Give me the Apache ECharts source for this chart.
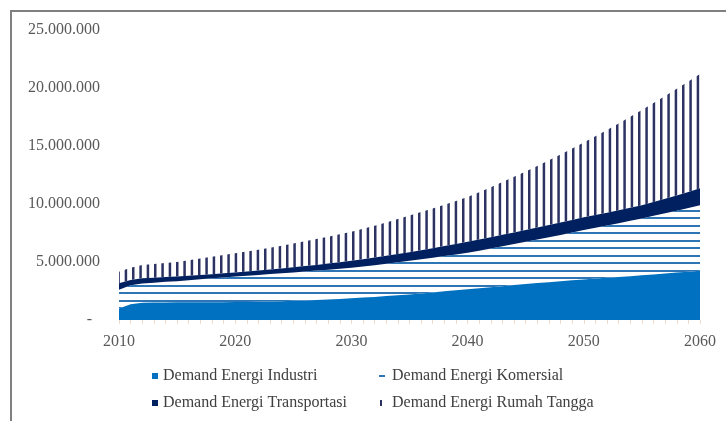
<!DOCTYPE html>
<html>
<head>
<meta charset="utf-8">
<script src="https://cdn.jsdelivr.net/npm/echarts@6/dist/echarts.min.js"></script>
<style>
html,body{margin:0;padding:0;background:#fff;}
#chart{width:726px;height:421px;}
</style>
</head>
<body>
<div id="chart"></div>
<script>
const years = ['2010','2011','2012','2013','2014','2015','2016','2017','2018','2019',
  '2020','2021','2022','2023','2024','2025','2026','2027','2028','2029',
  '2030','2031','2032','2033','2034','2035','2036','2037','2038','2039',
  '2040','2041','2042','2043','2044','2045','2046','2047','2048','2049',
  '2050','2051','2052','2053','2054','2055','2056','2057','2058','2059','2060'];

const industri = [1000000,1350000,1480000,1500000,1510000,1520000,1520000,1530000,1540000,1540000,
  1550000,1560000,1570000,1590000,1620000,1650000,1690000,1730000,1770000,1820000,
  1870000,1930000,1990000,2060000,2130000,2200000,2290000,2380000,2470000,2560000,
  2650000,2740000,2830000,2920000,3010000,3100000,3180000,3260000,3340000,3420000,
  3500000,3570000,3640000,3710000,3780000,3850000,3930000,4010000,4090000,4170000,4250000];

const komersial = [1600000,1650000,1670000,1720000,1780000,1830000,1910000,1980000,2050000,2130000,
  2200000,2260000,2320000,2370000,2410000,2450000,2490000,2530000,2570000,2600000,
  2630000,2680000,2730000,2780000,2840000,2900000,2940000,2990000,3040000,3090000,
  3150000,3240000,3330000,3430000,3540000,3650000,3760000,3870000,3990000,4120000,
  4260000,4380000,4500000,4630000,4770000,4910000,5050000,5190000,5330000,5480000,5650000];

const transportasi = [560000,450000,450000,430000,410000,400000,380000,370000,360000,350000,
  350000,360000,380000,400000,420000,450000,470000,490000,520000,560000,
  600000,630000,660000,690000,720000,750000,790000,820000,860000,910000,
  950000,960000,980000,990000,1000000,1010000,1030000,1050000,1070000,1080000,
  1090000,1100000,1110000,1120000,1130000,1140000,1190000,1250000,1310000,1380000,1450000];

const rumahTangga = [1000000,1050000,1140000,1180000,1210000,1250000,1340000,1420000,1500000,1580000,
  1650000,1720000,1790000,1870000,1960000,2050000,2140000,2230000,2320000,2410000,
  2500000,2620000,2750000,2880000,3010000,3150000,3280000,3420000,3560000,3700000,
  3850000,4080000,4310000,4550000,4790000,5040000,5310000,5590000,5870000,6160000,
  6450000,6790000,7140000,7490000,7840000,8200000,8530000,8860000,9200000,9530000,9850000];

const seriesNames = ['Demand Energi Industri','Demand Energi Komersial','Demand Energi Transportasi','Demand Energi Rumah Tangga'];

function hPattern(){
  const c = document.createElement('canvas');
  c.width = 8; c.height = 15;
  const g = c.getContext('2d');
  g.fillStyle = '#2E75B6';
  g.fillRect(0, 0, 8, 2);
  g.fillRect(0, 7, 8, 2);
  return c;
}
function vPattern(){
  const c = document.createElement('canvas');
  c.width = 22; c.height = 8;
  const g = c.getContext('2d');
  g.fillStyle = '#2c3363';
  g.fillRect(0, 0, 2.5, 8);
  g.fillRect(7.33, 0, 2.5, 8);
  g.fillRect(14.67, 0, 2.5, 8);
  return c;
}

function fmt(v){
  if (v === 0) return '-\u00a0\u00a0';
  return String(v).replace(/\B(?=(\d{3})+(?!\d))/g, '.');
}

const serif = '"Liberation Serif", "Times New Roman", serif';
const chart = echarts.init(document.getElementById('chart'), null, {renderer:'canvas'});

function legendOf(name, left, top, icon, w, h, color, pad){
  return {
    data:[{name:name, icon:icon, itemStyle:{color:color}}],
    left:left, top:top, orient:'vertical', selectedMode:false,
    itemWidth:w, itemHeight:h, padding:0,
    textStyle:{fontFamily:serif, fontSize:16, color:'#404040', lineHeight:16, padding:[0,0,0,pad]}
  };
}

chart.setOption({
  animation:false,
  backgroundColor:'#ffffff',
  graphic:[{
    type:'rect', shape:{x:11, y:11, width:800, height:500},
    style:{fill:null, stroke:'#808080', lineWidth:2}, silent:true
  }],
  grid:{left:119, right:26, top:30, bottom:101},
  legend:[
    legendOf(seriesNames[0], 152, 368, 'rect', 6, 6, '#0070C0', 0),
    legendOf(seriesNames[2], 152, 395, 'rect', 6, 6, '#002060', 0),
    legendOf(seriesNames[1], 379, 368, 'rect', 6, 2, '#2E75B6', 2),
    legendOf(seriesNames[3], 380, 395, 'rect', 2, 6, '#2c3363', 5)
  ],
  xAxis:{
    type:'category', data:years, boundaryGap:false,
    axisLine:{show:false},
    axisTick:{show:true, interval:0, length:4, lineStyle:{color:'#f0dccb'}},
    axisLabel:{interval:9, margin:14, fontFamily:serif, fontSize:16, color:'#595959'}
  },
  yAxis:{
    type:'value', min:0, max:25000000, interval:5000000,
    splitLine:{show:false}, axisLine:{show:false}, axisTick:{show:false},
    axisLabel:{margin:19, fontFamily:serif, fontSize:16, color:'#595959', formatter:fmt}
  },
  series:[
    {name:seriesNames[0], type:'line', stack:'total', data:industri, symbol:'none',
     lineStyle:{width:0}, itemStyle:{color:'#0070C0'},
     areaStyle:{color:'#0070C0', opacity:1}},
    {name:seriesNames[1], type:'line', stack:'total', data:komersial, symbol:'none',
     lineStyle:{width:0}, itemStyle:{color:'#2E75B6'},
     areaStyle:{color:{image:hPattern(), repeat:'repeat'}, opacity:1}},
    {name:seriesNames[2], type:'line', stack:'total', data:transportasi, symbol:'none',
     lineStyle:{width:0}, itemStyle:{color:'#002060'},
     areaStyle:{color:'#002060', opacity:1}},
    {name:seriesNames[3], type:'line', stack:'total', data:rumahTangga, symbol:'none',
     lineStyle:{width:0}, itemStyle:{color:'#2c3363'},
     areaStyle:{color:{image:vPattern(), repeat:'repeat'}, opacity:1}}
  ]
});
</script>
</body>
</html>
